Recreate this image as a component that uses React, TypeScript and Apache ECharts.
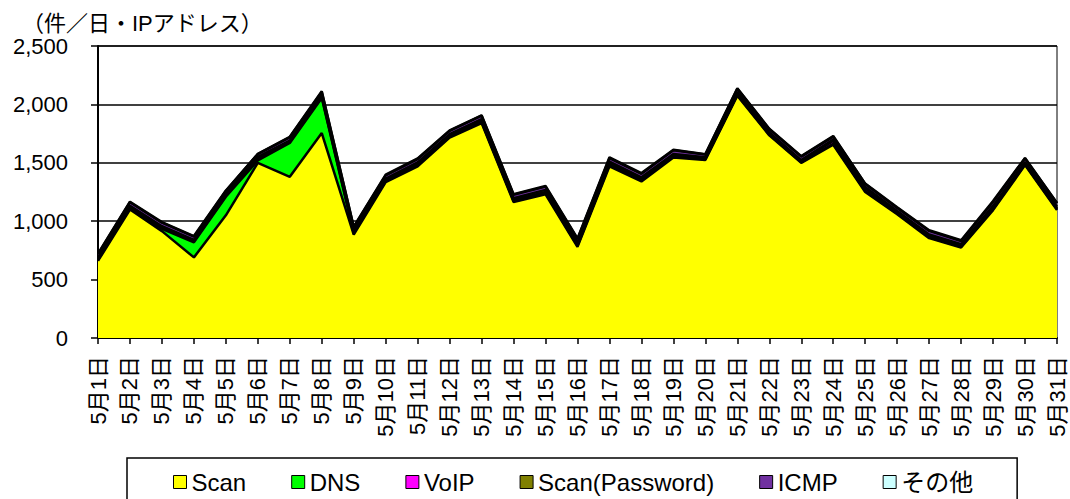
import React, { useEffect, useRef } from "react";
import * as echarts from "echarts";

const days = [
  "5月1日", "5月2日", "5月3日", "5月4日", "5月5日", "5月6日", "5月7日", "5月8日", "5月9日", "5月10日",
  "5月11日", "5月12日", "5月13日", "5月14日", "5月15日", "5月16日", "5月17日", "5月18日", "5月19日", "5月20日",
  "5月21日", "5月22日", "5月23日", "5月24日", "5月25日", "5月26日", "5月27日", "5月28日", "5月29日", "5月30日", "5月31日",
];

const scan = [660, 1100, 915, 690, 1050, 1500, 1380, 1755, 885, 1335, 1470, 1715, 1840, 1165, 1230, 780, 1470, 1340, 1545, 1525, 2075, 1735, 1500, 1655, 1250, 1060, 855, 775, 1095, 1480, 1095];
const dns = [10, 12, 20, 130, 160, 20, 290, 300, 15, 10, 12, 10, 10, 8, 12, 10, 12, 10, 8, 6, 8, 6, 5, 8, 8, 6, 8, 6, 10, 8, 8];
const voip = [8, 8, 8, 8, 8, 20, 8, 8, 8, 8, 8, 8, 8, 8, 8, 8, 12, 12, 8, 6, 6, 6, 8, 25, 22, 10, 10, 8, 8, 6, 6];
const scanPassword = [12, 12, 14, 12, 12, 10, 12, 15, 12, 12, 14, 12, 15, 15, 18, 18, 16, 14, 14, 10, 14, 12, 10, 10, 12, 12, 14, 14, 18, 14, 14];
const icmp = [28, 30, 30, 28, 28, 24, 28, 28, 28, 28, 28, 28, 30, 30, 28, 30, 30, 30, 32, 24, 30, 28, 30, 26, 26, 26, 30, 28, 34, 30, 30];
const other = [5, 5, 5, 5, 5, 2, 5, 7, 5, 5, 5, 4, 4, 6, 6, 6, 7, 6, 5, 3, 4, 5, 4, 5, 4, 5, 5, 6, 7, 4, 4];

const seriesNames = ["Scan", "DNS", "VoIP", "Scan(Password)", "ICMP", "その他"];
const seriesColors = ["#FFFF00", "#00FF00", "#FF00FF", "#808000", "#7030A0", "#CCFFFF"];
const seriesData = [scan, dns, voip, scanPassword, icmp, other];

const yTicks = { min: 0, max: 2500, interval: 500 };
const unitLabel = "（件／日・IPアドレス）";

const FONT = "'Liberation Sans', Arial, 'Noto Sans CJK JP', sans-serif";

export default function App() {
  const ref = useRef<HTMLDivElement>(null);

  useEffect(() => {
    if (!ref.current) return;
    const chart = echarts.init(ref.current, null, { renderer: "svg" });
    chart.setOption({
      animation: false,
      backgroundColor: "#ffffff",
      textStyle: { fontFamily: FONT, color: "#000" },
      title: {
        text: unitLabel,
        left: 22,
        top: 12,
        padding: 0,
        textStyle: { fontSize: 22, fontWeight: "normal", color: "#000", fontFamily: FONT },
      },
      legend: {
        left: 127,
        top: 458,
        icon: "rect",
        itemWidth: 13,
        itemHeight: 13,
        itemGap: 45,
        padding: [12, 44, 14, 46],
        borderColor: "#000",
        borderWidth: 1.5,
        itemStyle: { borderColor: "#000", borderWidth: 1 },
        textStyle: { fontSize: 24, color: "#000", fontFamily: FONT },
        data: seriesNames,
      },
      grid: {
        left: 98,
        right: 13,
        top: 46,
        bottom: 161,
        show: true,
        borderColor: "#000",
        borderWidth: 1,
      },
      xAxis: {
        type: "category",
        data: days,
        boundaryGap: false,
        axisLine: { lineStyle: { color: "#000", width: 2 } },
        axisTick: { show: true, interval: 0, length: 6, lineStyle: { color: "#000", width: 1.5 } },
        axisLabel: {
          interval: 0,
          rotate: 90,
          margin: 18,
          fontSize: 22,
          color: "#000",
          fontFamily: FONT,
        },
      },
      yAxis: {
        type: "value",
        min: yTicks.min,
        max: yTicks.max,
        interval: yTicks.interval,
        axisLine: { show: true, lineStyle: { color: "#000", width: 2 } },
        axisTick: { show: true, inside: false, length: 7, lineStyle: { color: "#000", width: 1.5 } },
        axisLabel: {
          margin: 30,
          fontSize: 22,
          color: "#000",
          fontFamily: FONT,
          formatter: (v: number) => v.toLocaleString("en-US"),
        },
        splitLine: { show: true, lineStyle: { color: "#000", width: 1.5 } },
      },
      series: seriesNames.map((name, i) => ({
        name,
        type: "line",
        stack: "total",
        data: seriesData[i],
        color: seriesColors[i],
        symbol: "none",
        showSymbol: false,
        lineStyle: { color: "#000", width: 2.5 },
        areaStyle: { color: seriesColors[i], opacity: 1 },
        itemStyle: { color: seriesColors[i], borderColor: "#000", borderWidth: 1 },
        z: 2,
      })),
    });
    return () => chart.dispose();
  }, []);

  return (
    <div
      ref={ref}
      style={{ position: "absolute", left: 0, top: 0, width: 1070, height: 499 }}
    />
  );
}
